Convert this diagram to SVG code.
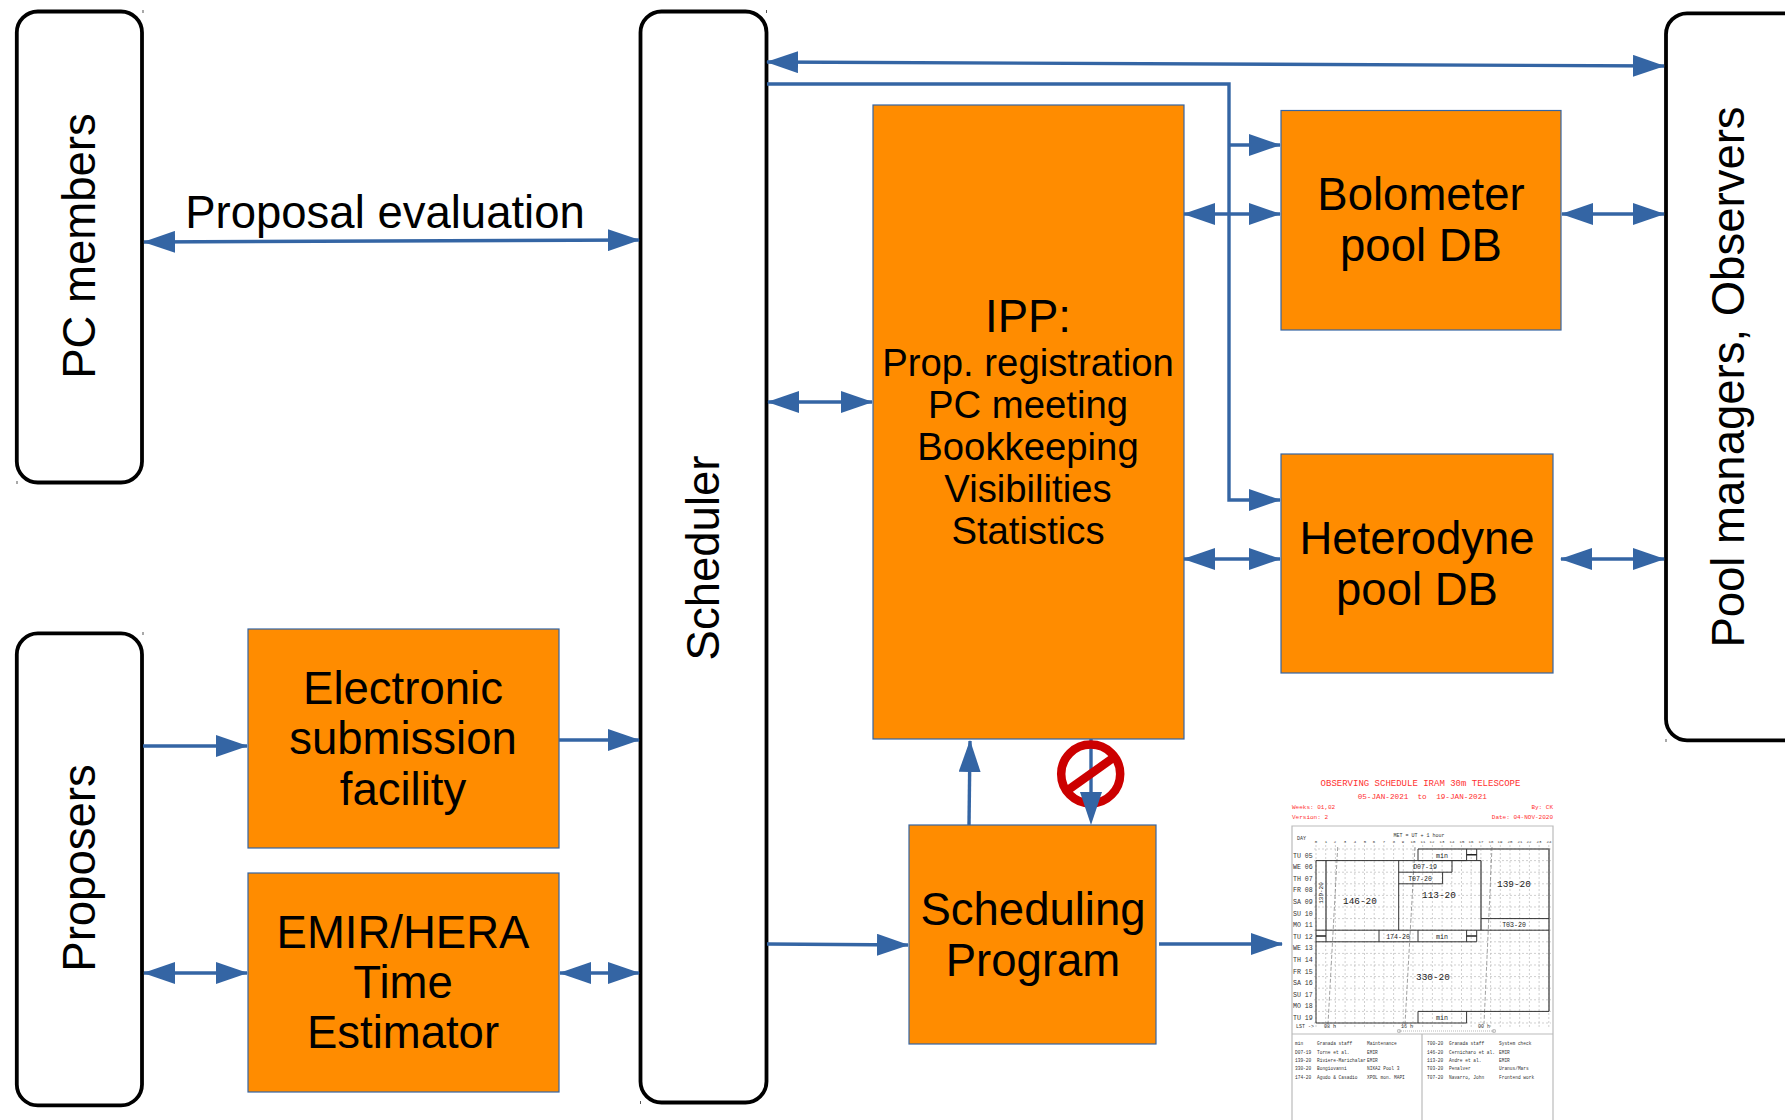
<svg xmlns="http://www.w3.org/2000/svg" width="1785" height="1120" viewBox="0 0 1785 1120">
<style>
text{font-family:"Liberation Sans",Arial,sans-serif;fill:#000;text-anchor:middle}
.t{font-size:45.5px}.m{font-size:38.3px}
.actor{fill:#fff;stroke:#000;stroke-width:3.8}
.tick{fill:#555}
.box{fill:#ff8c00;stroke:#3465a4;stroke-width:1.2}
.c{fill:none;stroke:#3465a4;stroke-width:3.4}
.a{marker-end:url(#h)}.b{marker-start:url(#hs);marker-end:url(#h)}
.s text{font-family:"Liberation Mono","DejaVu Sans Mono",monospace}
.s .r{font-size:9px;fill:#ff3030}
.s .r2{font-size:7.7px;fill:#ff3030}
.s .r3{font-size:6px;fill:#ff3030}
.s .l{font-size:6.6px;fill:#333;text-anchor:start}
.s .h{font-size:4px;fill:#333}
.s .h2{font-size:5px;fill:#333}
.s .n{font-size:4.5px;fill:#333;text-anchor:start}
.s .p{font-size:6.6px;fill:#222}
.s .b1{font-size:9.4px;fill:#222}
.g{fill:none;stroke:#bbb;stroke-width:.7;stroke-dasharray:2 2}
.k{fill:none;stroke:#333;stroke-width:1}
.k2{fill:none;stroke:#666;stroke-width:1.6}
.f{fill:none;stroke:#bbb;stroke-width:1.2}
.lst{fill:none;stroke:#777;stroke-width:.7;stroke-dasharray:4 2}
.dot{fill:none;stroke:#999;stroke-width:.7;stroke-dasharray:1 1}
.mk{fill:none;stroke:#222;stroke-width:1.6}
</style>
<defs>
<marker id="h" markerUnits="userSpaceOnUse" markerWidth="32" markerHeight="22" refX="31" refY="11" orient="auto"><path d="M0 0L32 11L0 22z" fill="#3465a4"/></marker>
<marker id="hs" markerUnits="userSpaceOnUse" markerWidth="32" markerHeight="22" refX="1" refY="11" orient="auto"><path d="M32 0L0 11L32 22z" fill="#3465a4"/></marker>
</defs>
<g id="node-pc-members"><rect class="actor" x="16.8" y="11.5" width="125.2" height="471" rx="21"/><rect class="tick" x="142.5" y="10" width="1" height="3"/><rect class="tick" x="16.5" y="481" width="1" height="3"/><text class="t" transform="translate(95 246) rotate(-90)">PC members</text></g>
<g id="node-proposers"><rect class="actor" x="16.8" y="633.4" width="125.2" height="472" rx="21"/><rect class="tick" x="142.5" y="632" width="1" height="3"/><text class="t" transform="translate(95 868) rotate(-90)">Proposers</text></g>
<g id="node-scheduler"><rect class="actor" x="640.5" y="11.5" width="126" height="1091" rx="21"/><rect class="tick" x="766" y="10" width="1" height="3"/><rect class="tick" x="640" y="1101" width="1" height="3"/><text class="t" transform="translate(719 558) rotate(-90)">Scheduler</text></g>
<g id="node-pool"><rect class="actor" x="1666" y="13.3" width="150" height="727" rx="21"/><rect class="tick" x="1665.5" y="739" width="1" height="3"/><text class="t" transform="translate(1744 377) rotate(-90)">Pool managers, Observers</text></g>
<g id="node-ipp"><rect class="box" x="873" y="105" width="311" height="634"/><text class="t" x="1028" y="332">IPP:</text><text class="m" x="1028" y="376">Prop. registration</text><text class="m" x="1028" y="418">PC meeting</text><text class="m" x="1028" y="460">Bookkeeping</text><text class="m" x="1028" y="502">Visibilities</text><text class="m" x="1028" y="544">Statistics</text></g>
<g id="node-bolometer"><rect class="box" x="1281" y="110.5" width="280" height="219.5"/><text class="t" x="1421" y="210">Bolometer</text><text class="t" x="1421" y="261">pool DB</text></g>
<g id="node-heterodyne"><rect class="box" x="1281" y="454" width="272" height="219"/><text class="t" x="1417" y="554">Heterodyne</text><text class="t" x="1417" y="605">pool DB</text></g>
<g id="node-electronic"><rect class="box" x="248" y="629" width="311" height="219"/><text class="t" x="403" y="704">Electronic</text><text class="t" x="403" y="754">submission</text><text class="t" x="403" y="805">facility</text></g>
<g id="node-emir"><rect class="box" x="248" y="873" width="311" height="219"/><text class="t" x="403" y="948">EMIR/HERA</text><text class="t" x="403" y="998">Time</text><text class="t" x="403" y="1048">Estimator</text></g>
<g id="node-scheduling"><rect class="box" x="909" y="825" width="247" height="219"/><text class="t" x="1033" y="925">Scheduling</text><text class="t" x="1033" y="976">Program</text></g>
<g id="connectors">
<line class="c b" x1="144" y1="242" x2="639" y2="240"/>
<text class="t" x="385" y="228">Proposal evaluation</text>
<line class="c a" x1="143" y1="746" x2="247" y2="746"/>
<line class="c a" x1="559" y1="740" x2="639" y2="740"/>
<line class="c b" x1="144" y1="973" x2="247" y2="973"/>
<line class="c b" x1="560" y1="973" x2="639" y2="973"/>
<line class="c b" x1="768" y1="402" x2="872" y2="402"/>
<line class="c b" x1="767" y1="62" x2="1664" y2="66"/>
<path class="c a" d="M767 84H1229V500H1280"/>
<line class="c a" x1="1229" y1="145" x2="1280" y2="145"/>
<line class="c b" x1="1184" y1="214" x2="1280" y2="214"/>
<line class="c b" x1="1562" y1="214" x2="1664" y2="214"/>
<line class="c b" x1="1184" y1="559" x2="1280" y2="559"/>
<line class="c b" x1="1561" y1="559" x2="1664" y2="559"/>
<line class="c a" x1="969" y1="825" x2="970" y2="741"/>
<line class="c a" x1="767" y1="944" x2="908" y2="945"/>
<line class="c a" x1="1159" y1="944" x2="1282" y2="944"/>
<line class="c" x1="1091" y1="739" x2="1091" y2="800"/>
</g>
<g id="no-sign"><circle cx="1090.7" cy="774" r="29.5" fill="none" stroke="#c00" stroke-width="8.5"/><line x1="1068" y1="790" x2="1113" y2="758" stroke="#c00" stroke-width="8.5"/><path d="M1080 792H1102L1091 825z" fill="#3465a4"/></g>
<g class="s" id="schedule">
<text class="r" x="1420.5" y="786">OBSERVING SCHEDULE IRAM 30m TELESCOPE</text>
<text class="r2" x="1383" y="798.5">05-JAN-2021</text><text class="r2" x="1422" y="798.5">to</text><text class="r2" x="1461.5" y="798.5">19-JAN-2021</text>
<text class="r3" style="text-anchor:start" x="1292" y="809">Weeks: 01,02</text>
<text class="r3" style="text-anchor:end" x="1553" y="809">By:  CK</text>
<text class="r3" style="text-anchor:start" x="1292" y="819">Version: 2</text>
<text class="r3" style="text-anchor:end" x="1553" y="819">Date:  04-NOV-2020</text>
<path class="f" d="M1292 1120V826H1553V1120M1292 1034H1553M1422 1034V1120"/>
<text class="h2" x="1419" y="837">MET = UT + 1 hour</text>
<text class="h2" x="1301.5" y="839.5">DAY</text>
<g><text class="h" x="1316" y="843">0</text><text class="h" x="1326" y="843">1</text><text class="h" x="1335" y="843">2</text><text class="h" x="1345" y="843">3</text><text class="h" x="1355" y="843">4</text><text class="h" x="1365" y="843">5</text><text class="h" x="1374" y="843">6</text><text class="h" x="1384" y="843">7</text><text class="h" x="1394" y="843">8</text><text class="h" x="1403" y="843">9</text><text class="h" x="1413" y="843">10</text><text class="h" x="1423" y="843">11</text><text class="h" x="1432" y="843">12</text><text class="h" x="1442" y="843">13</text><text class="h" x="1452" y="843">14</text><text class="h" x="1462" y="843">15</text><text class="h" x="1471" y="843">16</text><text class="h" x="1481" y="843">17</text><text class="h" x="1491" y="843">18</text><text class="h" x="1500" y="843">19</text><text class="h" x="1510" y="843">20</text><text class="h" x="1520" y="843">21</text><text class="h" x="1529" y="843">22</text><text class="h" x="1539" y="843">23</text><text class="h" x="1549" y="843">24</text></g>
<path class="g" d="M1316 845V1029M1325.7 845V1029M1335.4 845V1029M1345.1 845V1029M1354.8 845V1029M1364.5 845V1029M1374.2 845V1029M1383.9 845V1029M1393.6 845V1029M1403.3 845V1029M1413 845V1029M1422.7 845V1029M1432.4 845V1029M1442.1 845V1029M1451.8 845V1029M1461.5 845V1029M1471.2 845V1029M1480.9 845V1029M1490.6 845V1029M1500.3 845V1029M1510 845V1029M1519.7 845V1029M1529.4 845V1029M1539.1 845V1029M1548.8 845V1029"/>
<path class="g" d="M1314 849H1551M1314 860.6H1551M1314 872.2H1551M1314 883.8H1551M1314 895.4H1551M1314 907H1551M1314 918.6H1551M1314 930.2H1551M1314 941.8H1551M1314 953.4H1551M1314 965H1551M1314 976.6H1551M1314 988.2H1551M1314 999.8H1551M1314 1011.4H1551M1314 1023H1551"/>
<path class="lst" d="M1337.7 847L1328 1024M1415 847L1405 1024M1492 847L1484 1024"/>
<path class="k2" d="M1418 849H1549V1011.4M1326 860.6V930.2M1481 860.6V930.2"/>
<path class="k" d="M1418 849V860.6H1466.6V849M1476.7 849V860.6M1316 860.6H1481M1398.7 860.6V930.2M1398.7 872.2H1452V860.6M1398.7 883.8H1442.6V872.2M1481 918.6H1549M1316 860.6V1023H1466.6V1011.4M1316 930.2H1549M1316 941.8H1476.7M1379 930.2V941.8M1418 930.2V941.8M1466.6 930.2V941.8M1476.7 930.2V941.8M1326 930.2V941.8M1418 1023V1011.4H1549"/>
<path class="mk" d="M1466.6 854.8H1476.7M1316 936H1326M1466.6 936H1476.7"/>
<g><text class="l" x="1293" y="857.5">TU 05</text><text class="l" x="1293" y="869">WE 06</text><text class="l" x="1293" y="880.5">TH 07</text><text class="l" x="1293" y="892">FR 08</text><text class="l" x="1293" y="904">SA 09</text><text class="l" x="1293" y="915.5">SU 10</text><text class="l" x="1293" y="927">MO 11</text><text class="l" x="1293" y="938.5">TU 12</text><text class="l" x="1293" y="950">WE 13</text><text class="l" x="1293" y="962">TH 14</text><text class="l" x="1293" y="973.5">FR 15</text><text class="l" x="1293" y="985">SA 16</text><text class="l" x="1293" y="996.5">SU 17</text><text class="l" x="1293" y="1008">MO 18</text><text class="l" x="1293" y="1019.5">TU 19</text></g>
<text class="p" x="1442" y="857.5">min</text><text class="p" x="1425" y="868.5">D07-19</text><text class="p" x="1420" y="880.5">T07-20</text><text class="p" x="1514" y="926.5">T03-20</text><text class="p" x="1398" y="938.5">174-20</text><text class="p" x="1442" y="938.5">min</text><text class="p" x="1442" y="1019.5">min</text>
<text class="b1" x="1360" y="904">146-20</text><text class="b1" x="1439" y="898">113-20</text><text class="b1" x="1514" y="886.5">139-20</text><text class="b1" x="1433" y="979.5">330-20</text>
<text class="p" style="font-size:6px" transform="translate(1323 893) rotate(-90)">139-20</text>
<text class="h2" x="1305" y="1028">LST -&gt;</text><text class="h2" x="1330" y="1028">08 h</text><text class="h2" x="1407" y="1028">16 h</text><text class="h2" x="1484" y="1028">00 h</text>
<path class="dot" d="M1399 1031H1494"/><circle class="f" cx="1399" cy="1031" r="1.5" fill="none"/><circle class="f" cx="1494" cy="1031" r="1.5" fill="none"/>
<text class="n" x="1295" y="1045">min</text><text class="n" x="1317" y="1045">Granada staff</text><text class="n" x="1367" y="1045">Maintenance</text>
<text class="n" x="1295" y="1053.5">D07-19</text><text class="n" x="1317" y="1053.5">Torne et al.</text><text class="n" x="1367" y="1053.5">EMIR</text>
<text class="n" x="1295" y="1062">139-20</text><text class="n" x="1317" y="1062">Riviere-Marichalar</text><text class="n" x="1367" y="1062">EMIR</text>
<text class="n" x="1295" y="1070">330-20</text><text class="n" x="1317" y="1070">Bongiovanni</text><text class="n" x="1367" y="1070">NIKA2 Pool 3</text>
<text class="n" x="1295" y="1078.5">174-20</text><text class="n" x="1317" y="1078.5">Agudo &amp; Casadio</text><text class="n" x="1367" y="1078.5">XPOL mon. MAPI</text>
<text class="n" x="1427" y="1045">T00-20</text><text class="n" x="1449" y="1045">Granada staff</text><text class="n" x="1499" y="1045">System check</text>
<text class="n" x="1427" y="1053.5">146-20</text><text class="n" x="1449" y="1053.5">Cernicharo et al.</text><text class="n" x="1499" y="1053.5">EMIR</text>
<text class="n" x="1427" y="1062">113-20</text><text class="n" x="1449" y="1062">Andre et al.</text><text class="n" x="1499" y="1062">EMIR</text>
<text class="n" x="1427" y="1070">T03-20</text><text class="n" x="1449" y="1070">Penalver</text><text class="n" x="1499" y="1070">Uranus/Mars</text>
<text class="n" x="1427" y="1078.5">T07-20</text><text class="n" x="1449" y="1078.5">Navarro, John</text><text class="n" x="1499" y="1078.5">Frontend work</text>
</g>
</svg>
